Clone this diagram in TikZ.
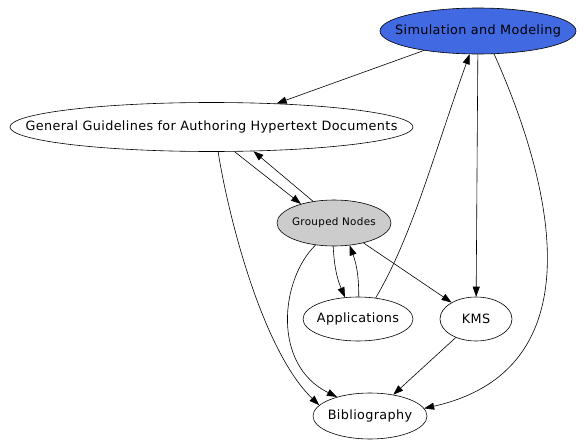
\documentclass[tikz,border=0pt]{standalone}
\usepackage{fontspec}
\setmainfont{DejaVu Sans}[LetterSpace=2.8]
\usepackage{tikz}
\usetikzlibrary{arrows.meta, shapes.geometric}

\definecolor{simblue}{RGB}{65,105,225}
\definecolor{groupgray}{RGB}{204,204,204}

\newcommand{\nodetext}[1]{\makebox[0pt]{#1}}

\begin{document}
\begin{tikzpicture}[x=1pt, y=1pt,
    topic/.style={ellipse, draw, line width=0.6pt, inner sep=0pt,
      font=\fontsize{12.8}{15}\selectfont},
    edge/.style={-{Triangle[length=10pt,width=7pt]}, line width=0.6pt}]

  \useasboundingbox (0,0) rectangle (587,-447);

  % Topics
  \node[topic, fill=simblue, minimum width=196pt, minimum height=46pt] (sim) at (478,-31) {\nodetext{Simulation and Modeling}};
  \node[topic, minimum width=403pt, minimum height=49pt] (gg) at (211.5,-127) {\nodetext{General Guidelines for Authoring Hypertext Documents}};

  % Grouped nodes
  \node[topic, fill=groupgray, minimum width=114pt, minimum height=46pt,
    font=\fontsize{10.4}{12}\selectfont] (grouped) at (334,-223) {\nodetext{Grouped Nodes}};

  % Leaves
  \node[topic, minimum width=110pt, minimum height=44pt] (app) at (358,-319) {\nodetext{Applications}};
  \node[topic, minimum width=72pt, minimum height=44pt] (kms) at (476,-319) {\nodetext{KMS}};
  \node[topic, minimum width=114pt, minimum height=46pt] (bib) at (370,-416) {\nodetext{Bibliography}};

  % Edges from Simulation and Modeling
  \draw[edge] (sim) -- (gg);
  \draw[edge] (sim) -- (kms);
  \draw[edge] (sim.-55) .. controls (555,-190) and (595,-370) .. (bib.8);

  % Edges between guidelines and grouped nodes
  \draw[edge] (gg.-47) -- (grouped.150);
  \draw[edge] (grouped.134) -- (gg.-30);
  \draw[edge] (gg.-75) .. controls (228,-215) and (262,-350) .. (bib.168);

  % Edges from grouped nodes
  \draw[edge] (grouped.-92) to[bend right=10] (app.121);
  \draw[edge] (app.88) to[bend right=10] (grouped.-55);
  \draw[edge] (grouped) -- (kms);
  \draw[edge] (grouped.-130) .. controls (280,-280) and (272,-365) .. (bib.150);

  % Remaining edges
  \draw[edge] (app.50) .. controls (412,-236) and (432,-160) .. (sim.-110);
  \draw[edge] (kms) -- (bib);

\end{tikzpicture}
\end{document}
